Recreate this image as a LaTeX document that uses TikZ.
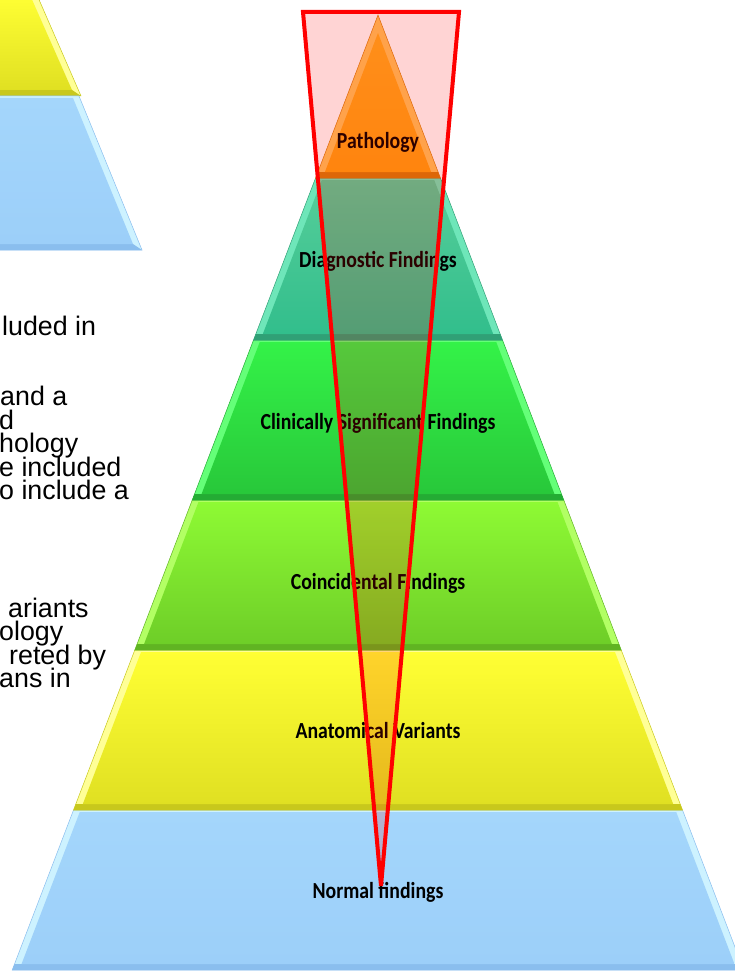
\documentclass[tikz,border=0pt]{standalone}
\usepackage{fontspec}
\setmainfont{Liberation Sans}
\newfontfamily\labelfont[FakeStretch=0.86]{Carlito}
\definecolor{orL}{RGB}{255,195,90}\definecolor{orT}{RGB}{255,172,32}\definecolor{orB}{RGB}{255,160,18}\definecolor{orD}{RGB}{215,125,10}
\definecolor{teL}{RGB}{110,230,185}\definecolor{teT}{RGB}{86,206,154}\definecolor{teB}{RGB}{50,190,140}\definecolor{teD}{RGB}{48,160,118}
\definecolor{grL}{RGB}{100,255,120}\definecolor{grT}{RGB}{52,242,72}\definecolor{grB}{RGB}{40,200,58}\definecolor{grD}{RGB}{36,172,52}
\definecolor{liL}{RGB}{178,255,100}\definecolor{liT}{RGB}{142,250,52}\definecolor{liB}{RGB}{110,206,40}\definecolor{liD}{RGB}{96,180,34}
\definecolor{yeL}{RGB}{255,255,150}\definecolor{yeT}{RGB}{255,255,52}\definecolor{yeB}{RGB}{224,224,34}\definecolor{yeD}{RGB}{200,200,28}
\definecolor{blL}{RGB}{205,242,255}\definecolor{blT}{RGB}{164,214,251}\definecolor{blB}{RGB}{156,207,249}\definecolor{blD}{RGB}{138,190,238}
\newcommand\pyrlayer[6]{%
  \pgfmathsetmacro\Ha{0.383*(#1-15)}%
  \pgfmathsetmacro\Hb{0.383*(#2-15)}%
  \pgfmathsetmacro\Hc{0.383*(#1+2-15)-7}%
  \pgfmathsetmacro\Hd{0.383*(#2-6-15)-7}%
  \pgfmathsetmacro\Ya{#1+2}%
  \pgfmathsetmacro\Yb{#2-6}%
  \path[fill=#3,draw=#6,line width=0.5] (378-\Ha,#1) -- (378+\Ha,#1) -- (378+\Hb,#2) -- (378-\Hb,#2) -- cycle;
  \path[fill=#6] (378-\Hd-7,\Yb) -- (378+\Hd+7,\Yb) -- (378+\Hb,#2) -- (378-\Hb,#2) -- cycle;
  \path[top color=#4,bottom color=#5] (378-\Hc,\Ya) -- (378+\Hc,\Ya) -- (378+\Hd,\Yb) -- (378-\Hd,\Yb) -- cycle;
}
\tikzset{
  lbl/.style={font=\labelfont\bfseries\fontsize{23}{26}\selectfont, text=black, inner sep=0pt},
  side/.style={font=\fontsize{26.8}{30}\selectfont, text=black, inner sep=0pt, anchor=base west,
    text height=15pt, text depth=4pt},
  overlay/.style={draw=red, line width=4, fill=red, fill opacity=0.17}
}
\begin{document}
\begin{tikzpicture}[x=1pt,y=-1pt]
\useasboundingbox (0,0) rectangle (735,971);
\fill[white] (0,0) rectangle (735,971);
\clip (0,0) rectangle (735,971);
% partial pyramid, top left
\path[fill=yeL,draw=yeD,line width=0.5] (-20,-5) -- (37,-5) -- (81,96) -- (-20,96) -- cycle;
\path[fill=yeD] (-20,90) -- (72,90) -- (81,96) -- (-20,96) -- cycle;
\path[top color=yeT,bottom color=yeB] (-20,-5) -- (30,-5) -- (72,90) -- (-20,90) -- cycle;
\path[fill=blL,draw=blD,line width=0.5] (-20,96) -- (79,96) -- (142,250) -- (-20,250) -- cycle;
\path[fill=blD] (-20,244) -- (133,244) -- (142,250) -- (-20,250) -- cycle;
\path[top color=blT,bottom color=blB] (-20,98) -- (73,98) -- (133,244) -- (-20,244) -- cycle;
% left text fragments
\node[side] (t1) at (2,335) {luded in};
\node[side] (t2) at (0,405.5) {and a};
\node[side] (t3) at (-1,429) {d};
\node[side] (t4) at (-1,452.5) {hology};
\node[side] (t5) at (-1,476) {e included};
\node[side] (t6) at (-1,499.5) {o include a};
\node[side] (t7) at (8,617) {ariants};
\node[side] (t8) at (-1,640.5) {ology};
\node[side] (t9) at (9,664) {reted by};
\node[side] (t10) at (-1,687.5) {ans in};
% main pyramid
\pyrlayer{810}{970}{blL}{blT}{blB}{blD}
\pyrlayer{650}{810}{yeL}{yeT}{yeB}{yeD}
\pyrlayer{500}{650}{liL}{liT}{liB}{liD}
\pyrlayer{340}{500}{grL}{grT}{grB}{grD}
\pyrlayer{178}{340}{teL}{teT}{teB}{teD}
\path[fill=orL,draw=orD,line width=0.5] (378,15) -- (440.4,178) -- (315.6,178) -- cycle;
\path[fill=orD] (317.9,172) -- (438.1,172) -- (440.4,178) -- (315.6,178) -- cycle;
\path[top color=orT,bottom color=orB] (378,33) -- (431.1,172) -- (324.9,172) -- cycle;
% labels
\node[lbl] (pathology) at (378,142) {Pathology};
\node[lbl] (diagnostic) at (378,261) {Diagnostic Findings};
\node[lbl] (clinical) at (378,423) {Clinically Significant Findings};
\node[lbl] (coincidental) at (378,583) {Coincidental Findings};
\node[lbl] (anatomical) at (378,731) {Anatomical Variants};
\node[lbl] (normal) at (378,892) {Normal findings};
% red overlay
\path[overlay] (303,12) -- (459,12) -- (381,886) -- cycle;
\end{tikzpicture}
\end{document}
